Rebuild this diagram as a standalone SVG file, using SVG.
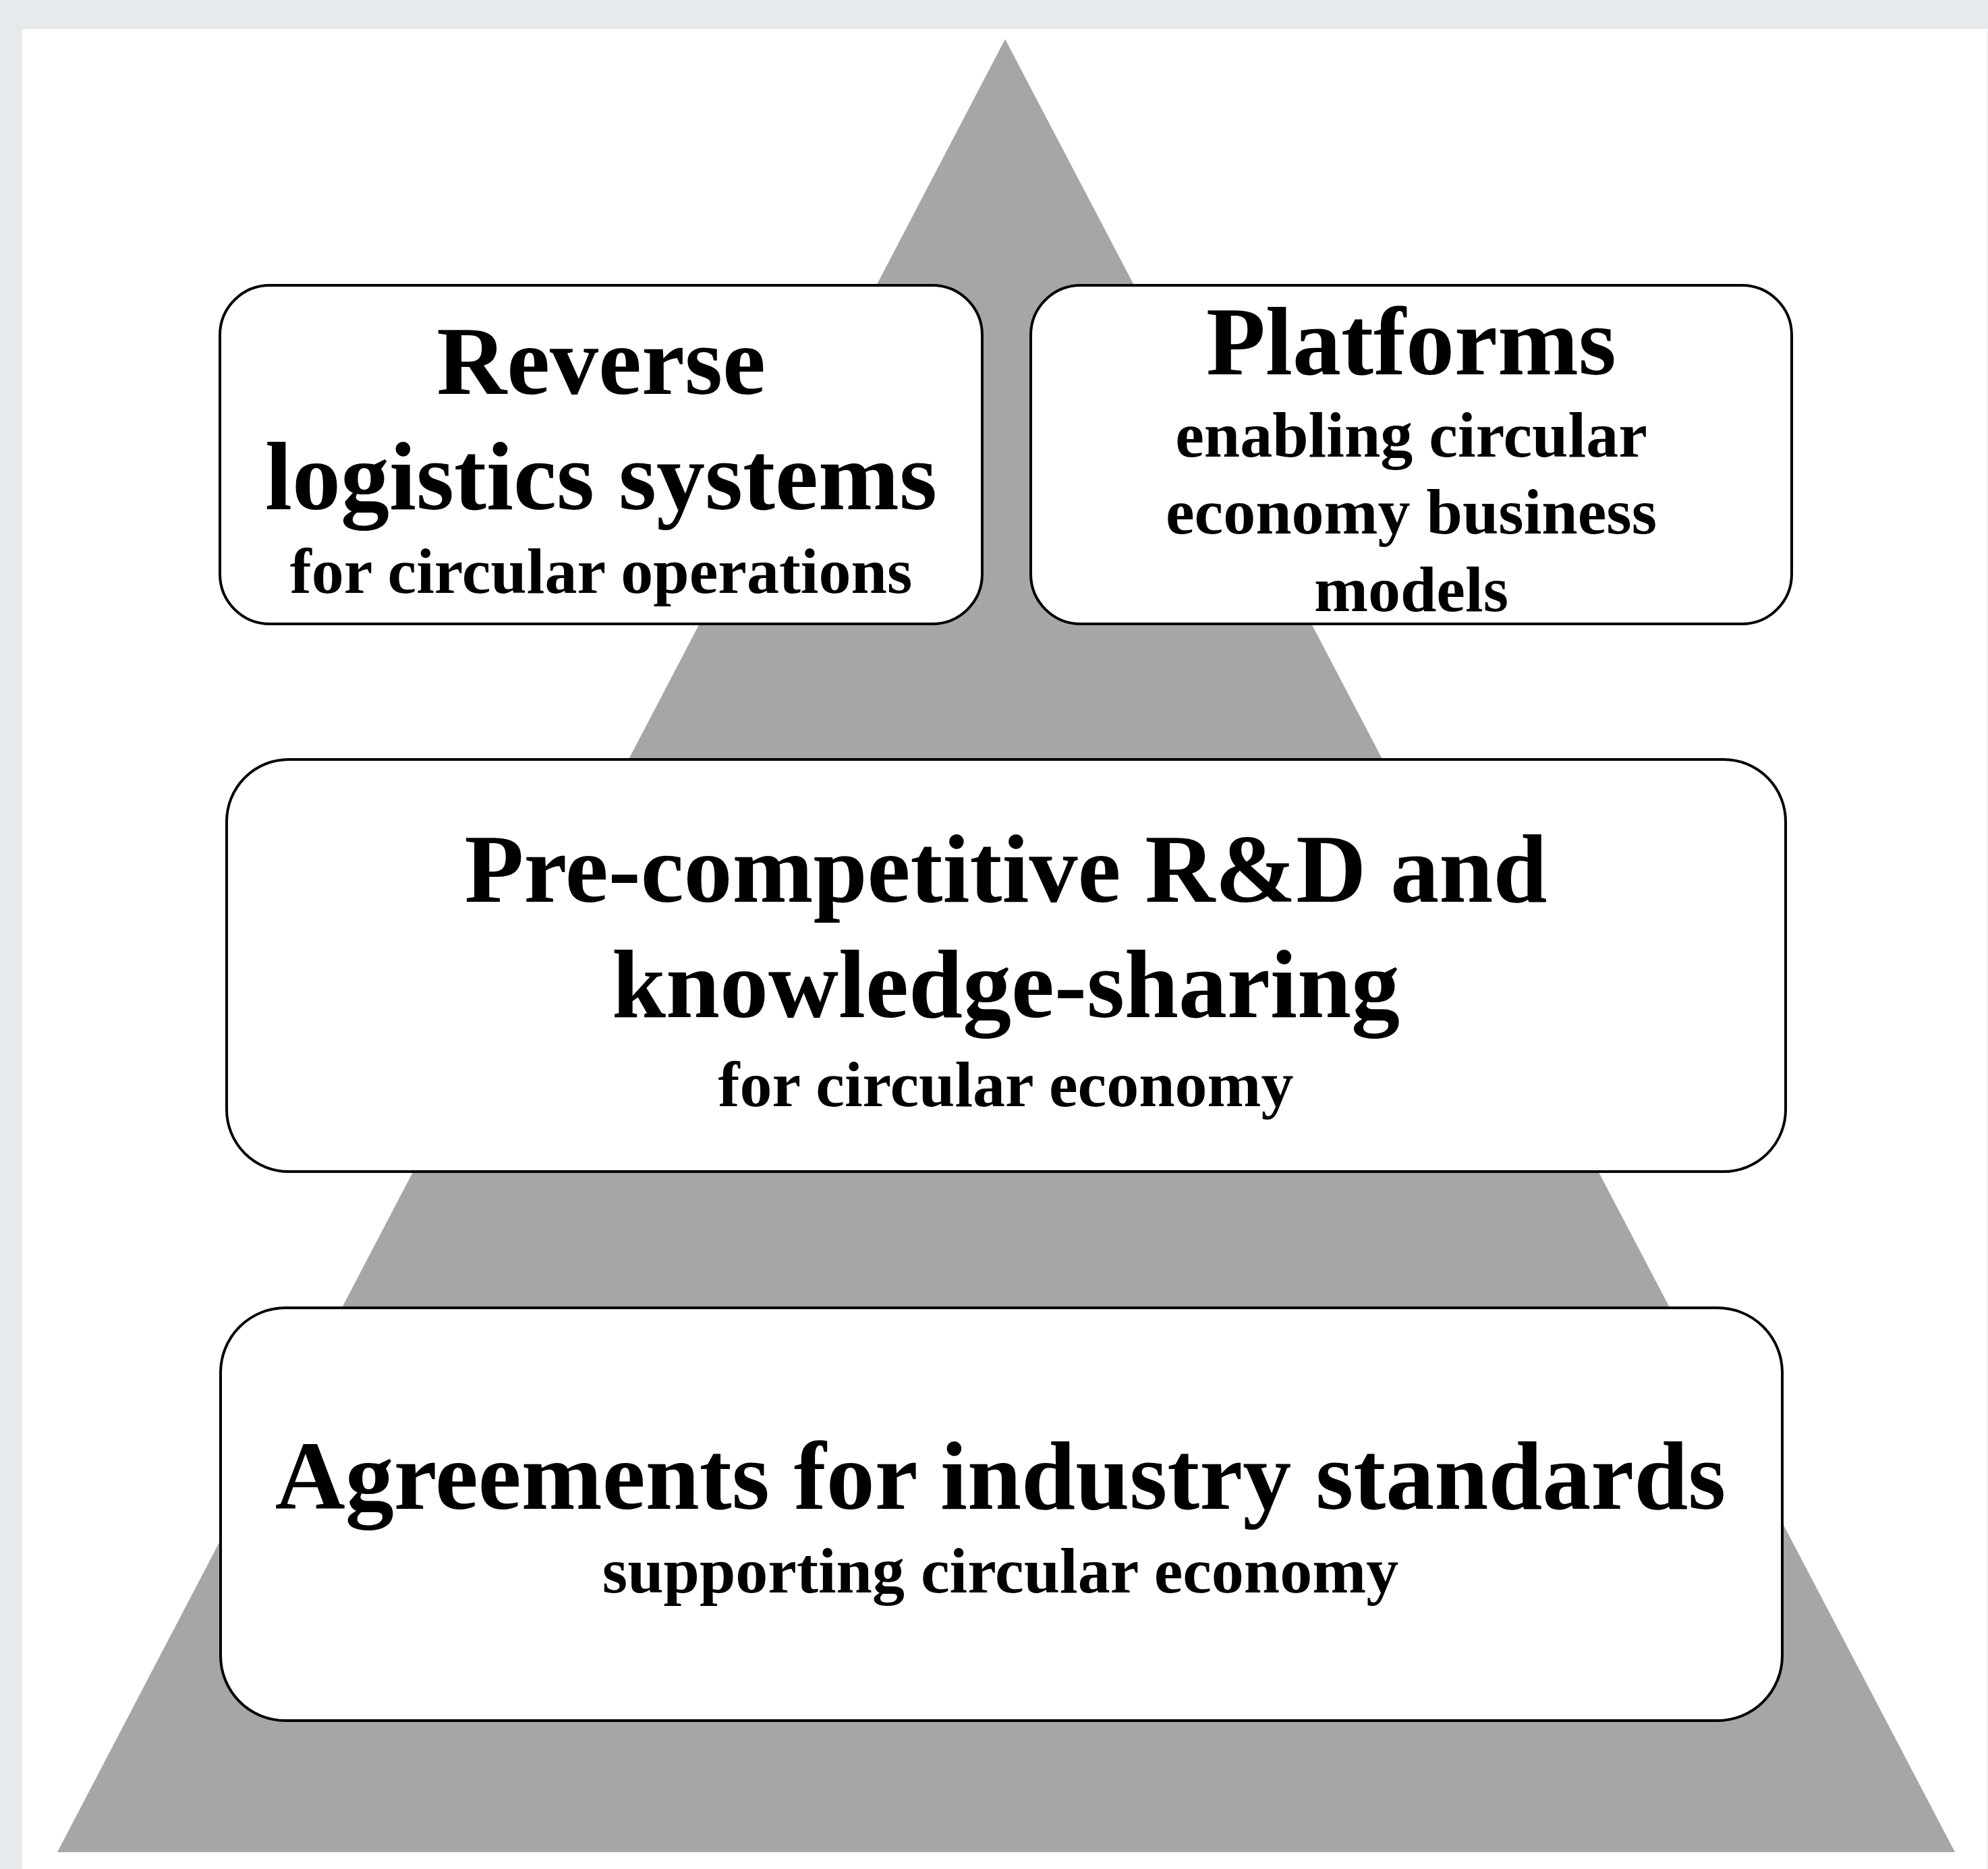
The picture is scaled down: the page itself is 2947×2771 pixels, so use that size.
<svg xmlns="http://www.w3.org/2000/svg" width="2947" height="2771" viewBox="0 0 2947 2771">
  <style>
    .box { fill: #ffffff; stroke: #000000; stroke-width: 4; }
    .t { font-family: "Liberation Serif", "Times New Roman", serif; font-weight: bold; fill: #000000; text-anchor: middle; }
    .big { font-size: 144px; }
    .small { font-size: 96px; }
  </style>

  <!-- page background and white panel -->
  <rect x="0" y="0" width="2947" height="2771" fill="#e6eaed"/>
  <rect x="32" y="43" width="2914" height="2728" fill="#ffffff"/>
  <line x1="33" y1="43" x2="33" y2="2771" stroke="#f2f2f2" stroke-width="2"/>

  <!-- grey pyramid behind the layers -->
  <polygon id="pyramid" points="1490,58 2898,2746 85,2746" fill="#a6a6a6"/>

  <!-- connectors: none in this figure -->
  <g id="connectors"></g>

  <!-- top left layer -->
  <g id="reverse-logistics">
    <rect class="box" x="326" y="423" width="1130" height="502" rx="74" ry="74"/>
    <text class="t big" x="891" y="584">Reverse</text>
    <text class="t big" x="891" y="755">logistics systems</text>
    <text class="t small" x="891" y="879">for circular operations</text>
  </g>

  <!-- top right layer -->
  <g id="platforms">
    <rect class="box" x="1528" y="423" width="1128" height="502" rx="74" ry="74"/>
    <text class="t big" x="2092" y="555">Platforms</text>
    <text class="t small" x="2092" y="677">enabling circular</text>
    <text class="t small" x="2092" y="791">economy business</text>
    <text class="t small" x="2092" y="906">models</text>
  </g>

  <!-- middle layer -->
  <g id="rd-knowledge">
    <rect class="box" x="336" y="1126" width="2311" height="611" rx="92" ry="92"/>
    <text class="t big" x="1491" y="1337">Pre-competitive R&amp;D and</text>
    <text class="t big" x="1491" y="1508">knowledge-sharing</text>
    <text class="t small" x="1491" y="1640">for circular economy</text>
  </g>

  <!-- bottom layer -->
  <g id="industry-standards">
    <rect class="box" x="327" y="1939" width="2315" height="612" rx="96" ry="96"/>
    <text class="t big" x="1483" y="2237">Agreements for industry standards</text>
    <text class="t small" x="1483" y="2361">supporting circular economy</text>
  </g>
</svg>
